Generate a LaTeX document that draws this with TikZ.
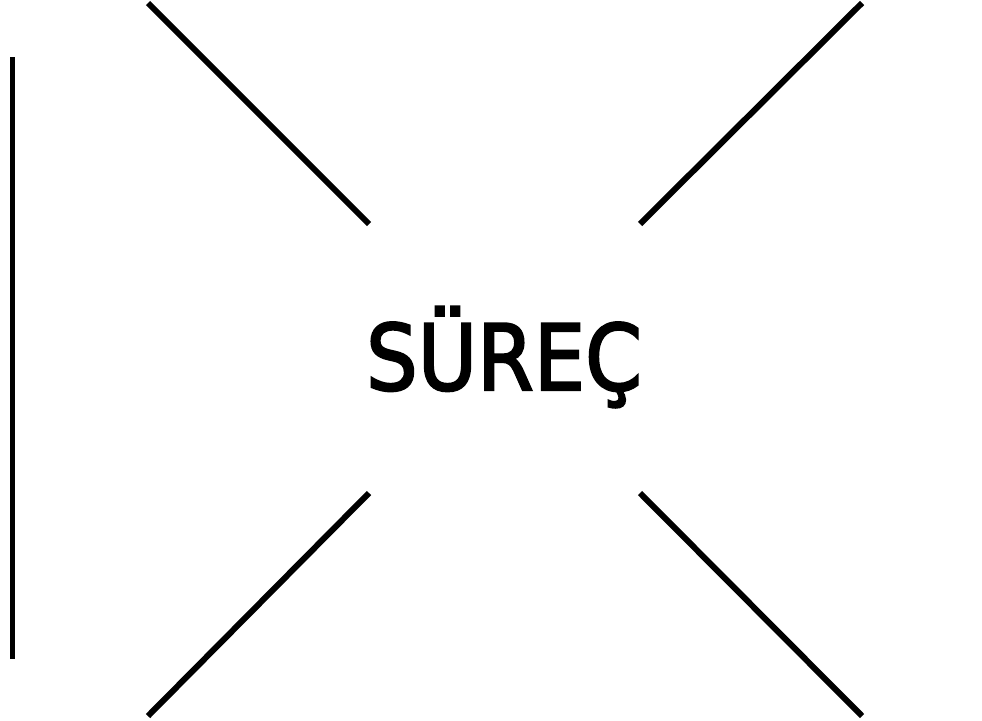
\documentclass[tikz,border=0pt]{standalone}
\usepackage{fontspec}
\newfontfamily\labelfont[FakeBold=2.5]{DejaVu Sans}
\usetikzlibrary{positioning,calc}

\begin{document}
\begin{tikzpicture}[x=0.02cm,y=-0.02cm, bar/.style={line width=0.12cm,line cap=butt}, every node/.style={font=\labelfont\fontsize{52}{56}\selectfont}]
  \useasboundingbox (0,0) rectangle (982,720);
  \node[anchor=base,xscale=0.89,inner sep=0pt] (proc) at (504,390) {SÜREÇ};
  % frame of the process
  \coordinate (tlA) at (148,3);   \coordinate (tlB) at (369,224);
  \coordinate (trA) at (862,3);   \coordinate (trB) at (640,224);
  \coordinate (blA) at (148,716); \coordinate (blB) at (369,493);
  \coordinate (brA) at (862,716); \coordinate (brB) at (640,493);
  \draw[bar] (tlA)--(tlB);
  \draw[bar] (trA)--(trB);
  \draw[bar] (blA)--(blB);
  \draw[bar] (brA)--(brB);
  \draw[bar] (12.5,57)--(12.5,659);
\end{tikzpicture}
\end{document}
